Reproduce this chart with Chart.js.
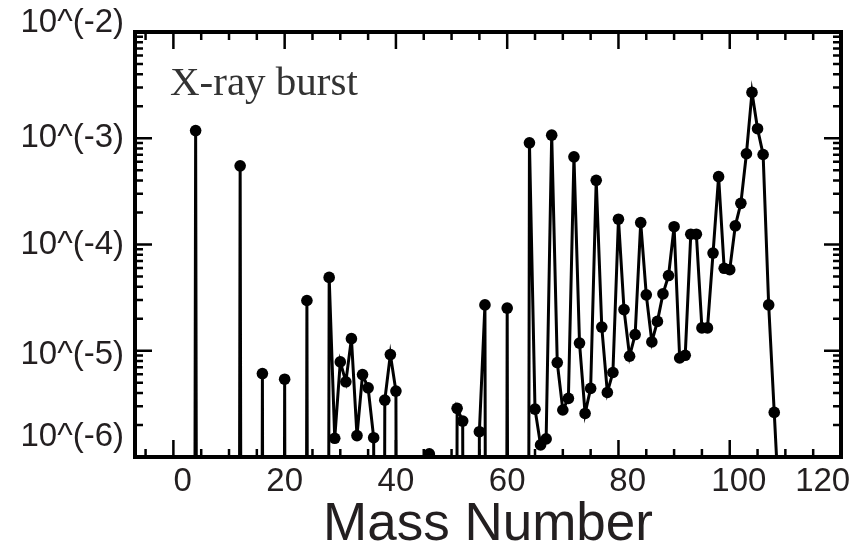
<!DOCTYPE html>
<html>
<head>
<meta charset="utf-8">
<script src="https://cdn.jsdelivr.net/npm/chart.js@4.4.1/dist/chart.umd.min.js"></script>
<style>
  html, body { margin: 0; padding: 0; background: #ffffff; }
  #wrap { width: 861px; height: 549px; }
</style>
</head>
<body>
<div id="wrap"><canvas id="c" width="861" height="549"></canvas></div>
<script>
// ---------- data ----------
// mass numbers (A) and abundances; 1e-30 marks values that fall below the plotted range
const massNumbers = [
  3, 4, 5,
  11, 12, 13,
  15, 16, 17,
  19, 20, 21,
  23, 24, 25,
  27, 28, 29, 30, 31, 32, 33, 34, 35, 36, 37, 38, 39, 40, 41,
  45, 46, 47,
  50, 51, 52, 53,
  54, 55, 56, 57,
  59, 60, 61,
  63, 64, 65, 66, 67, 68, 69, 70, 71, 72, 73, 74, 75, 76, 77, 78, 79, 80,
  81, 82, 83, 84, 85, 86, 87, 88, 89, 90, 91, 92, 93, 94, 95, 96, 97, 98,
  99, 100, 101, 102, 103, 104, 105, 106, 107, 108, 109
];
const abundances = [
  1e-30, 1.18e-3, 1e-30,
  1e-30, 5.5e-4, 1e-30,
  1e-30, 6.1e-6, 1e-30,
  1e-30, 5.4e-6, 1e-30,
  1e-30, 2.97e-5, 1e-30,
  1e-30, 4.9e-5, 1.5e-6, 7.85e-6, 5.1e-6, 1.30e-5, 1.59e-6, 5.97e-6, 4.48e-6, 1.52e-6, 1e-30, 3.43e-6, 9.2e-6, 4.17e-6, 1e-30,
  1e-30, 1.07e-6, 1e-30,
  1e-30, 2.87e-6, 2.18e-6, 1e-30,
  1e-30, 1.73e-6, 2.7e-5, 1e-30,
  1e-30, 2.52e-5, 1e-30,
  1e-30, 9.06e-4, 2.82e-6, 1.3e-6, 1.48e-6, 1.07e-3, 7.74e-6, 2.77e-6, 3.56e-6, 6.68e-4, 1.18e-5, 2.57e-6, 4.42e-6, 4.02e-4, 1.67e-5, 4.05e-6, 6.24e-6, 1.73e-4,
  2.44e-5, 8.9e-6, 1.42e-5, 1.61e-4, 3.36e-5, 1.21e-5, 1.89e-5, 3.43e-5, 5.1e-5, 1.47e-4, 8.55e-6, 9.06e-6, 1.25e-4, 1.25e-4, 1.64e-5, 1.64e-5, 8.3e-5, 4.35e-4,
  5.97e-5, 5.8e-5, 1.5e-4, 2.44e-4, 7.15e-4, 2.7e-3, 1.23e-3, 7.03e-4, 2.7e-5, 2.63e-6, 2.5e-7
];
const xTickValues = [0, 20, 40, 60, 80, 100, 120];
const xTickLabels = ['0', '20', '40', '60', '80', '100', '120'];
const yTickValues = [1e-6, 1e-5, 1e-4, 1e-3, 1e-2];
const yTickLabels = ['10^(-6)', '10^(-5)', '10^(-4)', '10^(-3)', '10^(-2)'];
const panelLabel = 'X-ray burst';
const xAxisTitle = 'Mass Number';

// ---------- label placement tweaks (styling only) ----------
const xLabelSpaces = { 0: [2, 0], 80: [2, 0], 100: [2, 0], 120: [0, 4] }; // [leading, trailing]
const yLabelShift = { '-6': { lines: 'up', lh: '40px' }, '-2': { lines: 'up', lh: '19px' }, '-5': { lines: 'down', lh: '8px' } };

const TEXT = '#231f20';
const FONT = 'Liberation Sans, Arial, sans-serif';

const points = massNumbers.map((a, i) => ({ x: a, y: abundances[i] }));

function expKey(v) { return String(Math.round(Math.log10(v))); }

const framePlugin = {
  id: 'frame',
  afterDatasetsDraw(chart) {
    const { ctx, chartArea: { left, right, top, bottom }, scales: { x, y } } = chart;
    ctx.save();
    ctx.strokeStyle = '#000';
    ctx.lineCap = 'butt';
    ctx.lineWidth = 2.5;
    ctx.beginPath();
    for (let v = -5; v <= 120; v += 5) {
      const px = x.getPixelForValue(v);
      if (px < left || px > right) continue;
      const len = v % 20 === 0 ? 17 : 8;
      ctx.moveTo(px, bottom); ctx.lineTo(px, bottom - len);
      ctx.moveTo(px, top); ctx.lineTo(px, top + len);
    }
    for (let d = -6; d <= -2; d++) {
      for (let m = 1; m <= 9; m++) {
        if (d === -2 && m > 1) break;
        const py = y.getPixelForValue(m * Math.pow(10, d));
        const len = m === 1 ? 17 : 8;
        ctx.moveTo(left, py); ctx.lineTo(left + len, py);
        ctx.moveTo(right, py); ctx.lineTo(right - len, py);
      }
    }
    ctx.stroke();
    ctx.lineWidth = 4;
    ctx.strokeRect(left, top, right - left, bottom - top);
    ctx.restore();
  },
  afterDraw(chart) {
    const { ctx, chartArea: { left, top } } = chart;
    ctx.save();
    ctx.fillStyle = '#333333';
    ctx.font = '41px "Liberation Serif", "Times New Roman", serif';
    ctx.textAlign = 'left';
    ctx.textBaseline = 'alphabetic';
    ctx.fillText(panelLabel, left + 35, top + 63);
    ctx.restore();
  }
};

new Chart(document.getElementById('c').getContext('2d'), {
  type: 'line',
  data: {
    datasets: [{
      data: points,
      borderColor: '#000',
      backgroundColor: '#000',
      borderWidth: 3,
      pointRadius: 5.8,
      pointBackgroundColor: '#000',
      pointBorderWidth: 0,
      tension: 0,
      fill: false
    }]
  },
  options: {
    responsive: false,
    animation: false,
    devicePixelRatio: 1,
    layout: { padding: { top: 32, right: 20, bottom: 0, left: 0 } },
    plugins: { legend: { display: false }, tooltip: { enabled: false } },
    scales: {
      x: {
        type: 'linear',
        min: -6.9,
        max: 120,
        grid: { display: false, drawTicks: false },
        border: { display: false },
        afterBuildTicks: (s) => { s.ticks = xTickValues.map(v => ({ value: v })); },
        afterFit: (s) => { s.height = 92; s.paddingLeft = 0; s.paddingRight = 0; },
        ticks: {
          autoSkip: false,
          maxRotation: 0,
          padding: 5,
          color: TEXT,
          font: { family: FONT, size: 33 },
          callback: (v) => {
            const i = xTickValues.indexOf(v);
            const lbl = i >= 0 ? xTickLabels[i] : '';
            const sp = xLabelSpaces[v] || [0, 0];
            return ' '.repeat(sp[0]) + lbl + ' '.repeat(sp[1]);
          }
        },
        title: {
          display: true,
          text: xAxisTitle,
          color: TEXT,
          font: { family: FONT, size: 53, lineHeight: 0.85 },
          padding: { top: 0, bottom: 1 }
        }
      },
      y: {
        type: 'logarithmic',
        min: 1e-6,
        max: 1e-2,
        grid: { display: false, drawTicks: false },
        border: { display: false },
        afterBuildTicks: (s) => { s.ticks = yTickValues.map(v => ({ value: v })); },
        afterFit: (s) => { s.width = 135; s.paddingTop = 0; s.paddingBottom = 0; },
        ticks: {
          autoSkip: false,
          padding: 11,
          color: TEXT,
          font: (ctx) => {
            const t = ctx.tick;
            const sh = t ? yLabelShift[expKey(t.value)] : null;
            return { family: FONT, size: 33, lineHeight: sh ? sh.lh : 1.2 };
          },
          callback: (v) => {
            const i = yTickValues.findIndex(t => Math.abs(Math.log10(t) - Math.log10(v)) < 1e-6);
            const lbl = i >= 0 ? yTickLabels[i] : '';
            const sh = yLabelShift[expKey(v)];
            if (!sh) return lbl;
            return sh.lines === 'up' ? [lbl, ''] : ['', lbl];
          }
        }
      }
    }
  },
  plugins: [framePlugin]
});
</script>
</body>
</html>
